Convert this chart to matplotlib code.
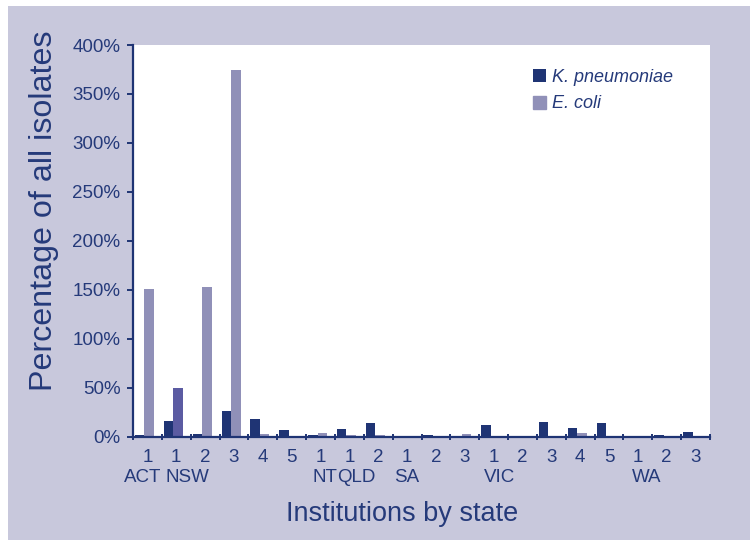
import matplotlib
matplotlib.use("Agg")
import matplotlib.pyplot as plt
from matplotlib.patches import Rectangle
from matplotlib.ticker import FuncFormatter, FixedLocator
import numpy as np

# ---- colours ----
BG = "#c8c8dc"
NAVY = "#1f3474"
LILAC = "#9090b8"
ODD = "#5b5ba2"
TEXT = "#253a7a"

plt.rcParams.update({
    "font.family": ["Liberation Sans", "DejaVu Sans"],
    "text.color": TEXT,
    "axes.labelcolor": TEXT,
    "xtick.color": NAVY,
    "ytick.color": NAVY,
})

# ---- data ----
states = ["ACT", "NSW", "NT", "QLD", "SA", "VIC", "WA"]
state_counts = [1, 5, 1, 2, 3, 5, 3]
institutions = ["1", "1", "2", "3", "4", "5", "1", "1", "2", "1", "2", "3",
                "1", "2", "3", "4", "5", "1", "2", "3"]
kpn = [2, 16, 3, 26, 18, 7, 2, 8, 14, 0, 2, 0, 12, 0, 15, 9, 14, 1, 2, 5]
eco = [151, 50, 153, 374, 3, 0, 4, 1.5, 2, 1, 0, 3, 1, 0, 0, 4, 1, 1, 1, 0]
# small nudges so the state names sit like the original
state_nudge = [-0.15, 0.4, 0.15, 0.25, 0.0, 0.2, 0.3]

fig = plt.figure(figsize=(7.5, 5.4), dpi=100, facecolor="white")
fig.patches.append(Rectangle((8 / 750, 0), 1, 534 / 540, transform=fig.transFigure,
                             facecolor=BG, edgecolor="none", zorder=-10))
ax = fig.add_axes([133 / 750, 103.3 / 540, 577 / 750, 391.7 / 540])
ax.set_facecolor("white")

x = np.arange(len(institutions))
w = 0.33
eco_colors = [LILAC] * len(eco)
eco_colors[1] = ODD
ax.bar(x - 0.267, kpn, w, color=NAVY, label="K. pneumoniae", zorder=2)
ax.bar(x + 0.063, eco, w, color=eco_colors, label="E. coli", zorder=2)

ax.set_xlim(-0.5, len(x) - 0.5)
ax.set_ylim(0, 400)
ax.set_yticks(np.arange(0, 401, 50))
ax.yaxis.set_major_formatter(FuncFormatter(lambda v, p: f"{v:.0f}%"))

ax.set_xticks(x)
ax.set_xticklabels(institutions, fontsize=13.5, color=TEXT)
ax.xaxis.set_minor_locator(FixedLocator(np.arange(-0.5, len(x), 1.0)))
ax.tick_params(axis="x", which="major", length=0, pad=9)
ax.tick_params(axis="x", which="minor", direction="inout", length=5, width=1.4)
ax.tick_params(axis="y", direction="out", length=4, width=1.4, labelsize=13.5,
               labelcolor=TEXT, pad=5)

for s in ["top", "right"]:
    ax.spines[s].set_visible(False)
for s in ["left", "bottom"]:
    ax.spines[s].set_color(NAVY)
    ax.spines[s].set_linewidth(1.6)
    ax.spines[s].set_zorder(3)

# state names under the first institution of each state
start = np.cumsum([0] + state_counts[:-1])
for st, i0, dx in zip(states, start, state_nudge):
    ax.text(i0 + dx, -0.105, st, transform=ax.get_xaxis_transform(),
            ha="center", va="center", fontsize=13.5, color=TEXT)

ax.set_xlabel("Institutions by state", fontsize=19.5)
ax.xaxis.set_label_coords(0.467, -0.165)
ax.set_ylabel("Percentage of all isolates", fontsize=23.2)
ax.yaxis.set_label_coords(-0.128, 0.576)

leg = ax.legend(loc="upper left", bbox_to_anchor=(0.693, 0.94), frameon=False,
                fontsize=13, handlelength=0.75, handleheight=0.75,
                handletextpad=0.3, labelspacing=0.55, borderpad=0, borderaxespad=0)
for t in leg.get_texts():
    t.set_fontstyle("italic")
    t.set_color(TEXT)
leg.legend_handles[1].set_color(LILAC)

fig.savefig("out.png", dpi=100, facecolor="white")
